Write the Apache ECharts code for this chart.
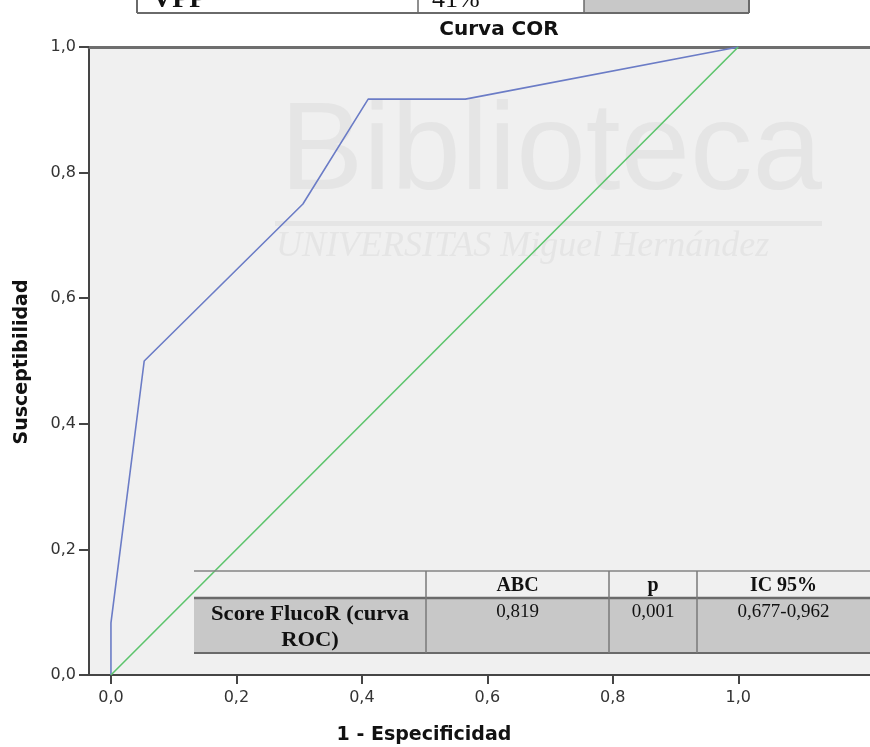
<!DOCTYPE html>
<html>
<head>
<meta charset="utf-8">
<script src="https://cdn.jsdelivr.net/npm/echarts@6/dist/echarts.min.js"></script>
<style>
html,body{margin:0;padding:0;background:#fff;}
#chart{width:870px;height:747px;}
</style>
</head>
<body>
<div id="chart"></div>
<script>
// ---- data ----
const title = 'Curva COR';
const xAxisName = '1 - Especificidad';
const yAxisName = 'Susceptibilidad';
const rocX = [0, 0, 0.053, 0.306, 0.41, 0.565, 1.0];      // 1 - Especificidad
const rocY = [0, 0.083, 0.5, 0.75, 0.917, 0.917, 1.0];     // Susceptibilidad
const refX = [0, 1];
const refY = [0, 1];
const xTicks = [0, 0.2, 0.4, 0.6, 0.8, 1.0];
const yTicks = [0, 0.2, 0.4, 0.6, 0.8, 1.0];
const tableHeader = ['', 'ABC', 'p', 'IC 95%'];
const tableRowLabel = ['Score FlucoR (curva', 'ROC)'];
const tableRowValues = ['0,819', '0,001', '0,677-0,962'];
const topTableTexts = ['VPP', '41%'];
const watermarkTitle = 'Biblioteca';
const watermarkSub = 'UNIVERSITAS Miguel Hernández';

const fmt = v => v.toFixed(1).replace('.', ',');
const chart = echarts.init(document.getElementById('chart'), null, {renderer: 'canvas'});

const axisColor = '#454545';
const tickFont = {color: '#333', fontSize: 16, fontFamily: 'DejaVu Sans'};

// table graphics
const colX = [194, 426, 609, 697, 870];
const rowY = [571, 598, 653];
const tableEls = [];
tableEls.push({type: 'rect', shape: {x: colX[0], y: rowY[1], width: colX[4] - colX[0], height: rowY[2] - rowY[1]}, style: {fill: '#c8c8c8'}});
tableEls.push({type: 'line', shape: {x1: colX[0], y1: rowY[0], x2: 870, y2: rowY[0]}, style: {stroke: '#858585', lineWidth: 1.5}});
tableEls.push({type: 'line', shape: {x1: colX[0], y1: rowY[1], x2: 870, y2: rowY[1]}, style: {stroke: '#6a6a6a', lineWidth: 2.5}});
tableEls.push({type: 'line', shape: {x1: colX[0], y1: rowY[2], x2: 870, y2: rowY[2]}, style: {stroke: '#6a6a6a', lineWidth: 2}});
for (let i = 1; i <= 3; i++) {
  tableEls.push({type: 'line', shape: {x1: colX[i], y1: rowY[0], x2: colX[i], y2: rowY[2]}, style: {stroke: '#7a7a7a', lineWidth: 1.5}});
}
tableHeader.forEach((t, i) => {
  if (!t) return;
  tableEls.push({type: 'text', x: (colX[i] + colX[i + 1]) / 2, y: 586,
    style: {text: t, font: 'bold 20px "Liberation Serif"', fill: '#111', align: 'center', verticalAlign: 'middle'}});
});
tableRowLabel.forEach((t, j) => {
  tableEls.push({type: 'text', x: (colX[0] + colX[1]) / 2, y: 615 + j * 26, scaleX: 1.13,
    style: {text: t, font: 'bold 20px "Liberation Serif"', fill: '#111', align: 'center', verticalAlign: 'middle'}});
});
tableRowValues.forEach((t, i) => {
  tableEls.push({type: 'text', x: (colX[i + 1] + colX[i + 2]) / 2, y: 612,
    style: {text: t, font: '19px "Liberation Serif"', fill: '#111', align: 'center', verticalAlign: 'middle'}});
});

// fragment of table at the top (cut by the page edge)
const topEls = [
  {type: 'rect', shape: {x: 584, y: 0, width: 165, height: 13}, style: {fill: '#c8c8c8'}},
  {type: 'line', shape: {x1: 137, y1: 13, x2: 749, y2: 13}, style: {stroke: '#6a6a6a', lineWidth: 2}},
  {type: 'line', shape: {x1: 137, y1: 0, x2: 137, y2: 13}, style: {stroke: '#6a6a6a', lineWidth: 2}},
  {type: 'line', shape: {x1: 418, y1: 0, x2: 418, y2: 13}, style: {stroke: '#6a6a6a', lineWidth: 1.5}},
  {type: 'line', shape: {x1: 584, y1: 0, x2: 584, y2: 13}, style: {stroke: '#6a6a6a', lineWidth: 1.5}},
  {type: 'line', shape: {x1: 749, y1: 0, x2: 749, y2: 13}, style: {stroke: '#6a6a6a', lineWidth: 2}},
  {type: 'text', x: 152, y: 0, style: {text: topTableTexts[0], font: 'bold 28px "Liberation Serif"', fill: '#111', align: 'left', verticalAlign: 'middle'}},
  {type: 'text', x: 432, y: 0, style: {text: topTableTexts[1], font: '26px "Liberation Serif"', fill: '#111', align: 'left', verticalAlign: 'middle'}}
];

// faint watermark
const wmColor = '#e5e5e5';
const wmEls = [
  {type: 'text', x: 280, y: 155, z: 1, style: {text: watermarkTitle, font: '125px "Liberation Sans"', fill: wmColor, align: 'left', verticalAlign: 'middle'}},
  {type: 'rect', z: 1, shape: {x: 275, y: 221, width: 547, height: 5}, style: {fill: wmColor}},
  {type: 'text', x: 276, y: 247, z: 1, style: {text: watermarkSub, font: 'italic 36px "Liberation Serif"', fill: wmColor, align: 'left', verticalAlign: 'middle'}}
];

const option = {
  backgroundColor: '#ffffff',
  animation: false,
  grid: {left: 89, right: 0, top: 47, bottom: 72, show: true, backgroundColor: '#f0f0f0', borderWidth: 0},
  xAxis: [{
    type: 'value', min: -0.035, max: 1.21,
    axisLine: {show: true, onZero: false, lineStyle: {color: axisColor, width: 2}},
    axisTick: {show: true, customValues: xTicks, length: 9, lineStyle: {color: axisColor, width: 2}},
    axisLabel: {customValues: xTicks, formatter: fmt, margin: 15, ...tickFont},
    splitLine: {show: false}
  }, {
    type: 'value', position: 'top', min: -0.035, max: 1.21,
    axisLine: {show: true, onZero: false, lineStyle: {color: '#6e6e6e', width: 3}},
    axisTick: {show: false}, axisLabel: {show: false}, splitLine: {show: false}
  }],
  yAxis: {
    type: 'value', min: 0, max: 1, interval: 0.2,
    axisLine: {show: true, onZero: false, lineStyle: {color: axisColor, width: 2}},
    axisTick: {show: true, length: 10, lineStyle: {color: axisColor, width: 2}},
    axisLabel: {formatter: fmt, margin: 13, ...tickFont},
    splitLine: {show: false}
  },
  graphic: [
    {type: 'text', x: 499, y: 30, style: {text: title, font: 'bold 20px "DejaVu Sans"', fill: '#111', align: 'center', verticalAlign: 'middle'}},
    {type: 'text', x: 424, y: 735, style: {text: xAxisName, font: 'bold 19px "DejaVu Sans"', fill: '#111', align: 'center', verticalAlign: 'middle'}},
    {type: 'text', x: 22, y: 362, rotation: Math.PI / 2, style: {text: yAxisName, font: 'bold 19px "DejaVu Sans"', fill: '#111', align: 'center', verticalAlign: 'middle'}},
    ...wmEls,
    ...topEls.map(e => Object.assign({z: 5}, e)),
    ...tableEls.map(e => Object.assign({z: 10}, e))
  ],
  series: [{
    type: 'line', name: 'ROC', xAxisIndex: 0,
    data: rocX.map((x, i) => [x, rocY[i]]),
    showSymbol: false, symbol: 'none',
    lineStyle: {color: '#6b7cc6', width: 1.6}, z: 3
  }, {
    type: 'line', name: 'Referencia', xAxisIndex: 0,
    data: refX.map((x, i) => [x, refY[i]]),
    showSymbol: false, symbol: 'none',
    lineStyle: {color: '#5cc46c', width: 1.6}, z: 3
  }]
};
chart.setOption(option);
</script>
</body>
</html>
